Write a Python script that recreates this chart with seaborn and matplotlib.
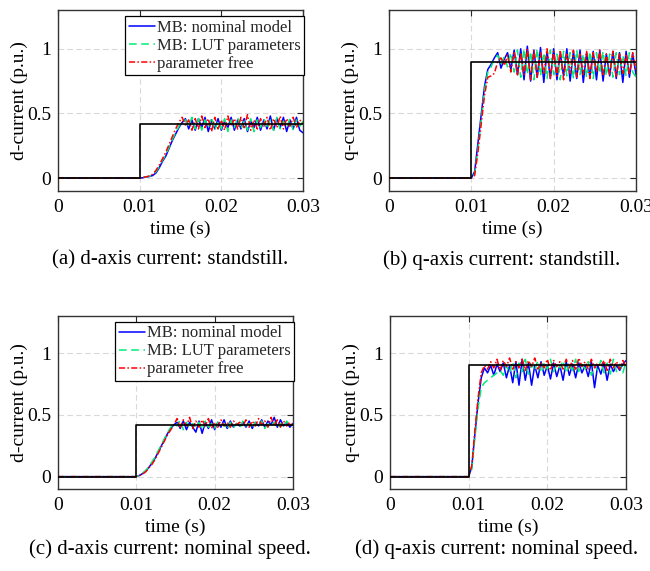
import numpy as np
import pandas as pd
import matplotlib
matplotlib.use("Agg")
import matplotlib.pyplot as plt
import seaborn as sns

# ------------------------------------------------------------
# datos (muestreo cada 0.4 ms desde t = 0.01 s)
# ------------------------------------------------------------
t_inicio = 0.0
t_escalon = 0.01
t_fin = 0.03

ref_d = 0.42
ref_q = 0.90

# (a) corriente d - standstill
a_nominal = [0.00, 0.003, 0.008, 0.012, 0.02, 0.04, 0.08, 0.13, 0.17, 0.23, 0.29, 0.34, 0.39,
             0.43, 0.46, 0.38, 0.45, 0.37, 0.46, 0.39, 0.47, 0.36, 0.45, 0.38, 0.46, 0.37,
             0.44, 0.39, 0.47, 0.37, 0.45, 0.38, 0.46, 0.36, 0.44, 0.39, 0.47, 0.37, 0.45,
             0.38, 0.48, 0.37, 0.46, 0.39, 0.47, 0.36, 0.45, 0.38, 0.47, 0.37, 0.35]
a_lut = [0.00, 0.004, 0.009, 0.014, 0.025, 0.05, 0.09, 0.14, 0.18, 0.24, 0.30, 0.35, 0.40,
         0.44, 0.45, 0.40, 0.47, 0.38, 0.46, 0.37, 0.45, 0.39, 0.47, 0.37, 0.44, 0.38,
         0.46, 0.36, 0.45, 0.39, 0.47, 0.38, 0.44, 0.37, 0.46, 0.36, 0.45, 0.39, 0.46,
         0.38, 0.45, 0.37, 0.47, 0.38, 0.44, 0.39, 0.46, 0.37, 0.45, 0.40, 0.44]
a_libre = [0.00, 0.005, 0.01, 0.016, 0.03, 0.06, 0.10, 0.15, 0.20, 0.26, 0.32, 0.38, 0.43,
           0.47, 0.41, 0.45, 0.37, 0.46, 0.38, 0.48, 0.39, 0.46, 0.36, 0.47, 0.38, 0.45,
           0.37, 0.48, 0.40, 0.46, 0.38, 0.47, 0.39, 0.49, 0.37, 0.45, 0.38, 0.46, 0.40,
           0.47, 0.37, 0.46, 0.39, 0.48, 0.38, 0.46, 0.40, 0.47, 0.39, 0.45, 0.42]

# (b) corriente q - standstill
b_nominal = [0.00, 0.05, 0.27, 0.49, 0.71, 0.84, 0.88, 0.93, 0.97, 0.85, 0.92, 0.97, 0.84,
             0.99, 0.80, 1.00, 0.76, 1.02, 0.75, 0.99, 0.78, 1.01, 0.74, 0.98, 0.77, 1.00,
             0.76, 0.97, 0.79, 1.00, 0.75, 0.98, 0.77, 0.99, 0.74, 0.97, 0.78, 0.98, 0.76,
             0.99, 0.75, 0.96, 0.79, 0.98, 0.77, 0.97, 0.74, 0.98, 0.78, 0.96, 0.80]
b_lut = [0.00, 0.03, 0.22, 0.45, 0.68, 0.82, 0.86, 0.92, 0.95, 0.88, 0.94, 0.86, 0.97,
         0.82, 0.99, 0.78, 1.00, 0.80, 0.98, 0.76, 1.00, 0.79, 0.97, 0.77, 0.99, 0.80,
         0.96, 0.76, 0.98, 0.79, 0.97, 0.77, 0.99, 0.80, 0.96, 0.78, 0.98, 0.77, 0.97,
         0.81, 0.98, 0.79, 0.96, 0.78, 0.97, 0.80, 0.95, 0.79, 0.97, 0.82, 0.78]
b_libre = [0.00, 0.02, 0.20, 0.42, 0.64, 0.78, 0.79, 0.81, 0.90, 0.93, 0.87, 0.95, 0.82,
           0.98, 0.79, 0.97, 0.80, 1.00, 0.76, 0.99, 0.78, 0.97, 0.80, 1.00, 0.77, 0.98,
           0.79, 0.99, 0.76, 0.97, 0.81, 0.99, 0.78, 0.96, 0.80, 0.98, 0.77, 0.97, 0.82,
           0.99, 0.79, 0.96, 0.80, 0.98, 0.78, 0.97, 0.81, 0.96, 0.80, 0.97, 0.83]

# (c) corriente d - velocidad nominal
c_nominal = [0.00, 0.01, 0.025, 0.045, 0.075, 0.11, 0.15, 0.20, 0.25, 0.30, 0.35, 0.39, 0.42,
             0.44, 0.39, 0.45, 0.38, 0.44, 0.40, 0.36, 0.45, 0.35, 0.44, 0.39, 0.46, 0.38,
             0.44, 0.40, 0.46, 0.39, 0.45, 0.40, 0.43, 0.41, 0.44, 0.40, 0.45, 0.39, 0.44,
             0.41, 0.46, 0.40, 0.45, 0.42, 0.48, 0.40, 0.46, 0.41, 0.44, 0.40, 0.43]
c_lut = [0.00, 0.012, 0.03, 0.05, 0.08, 0.12, 0.16, 0.21, 0.26, 0.31, 0.36, 0.40, 0.43,
         0.41, 0.46, 0.38, 0.44, 0.39, 0.43, 0.40, 0.44, 0.38, 0.45, 0.40, 0.43, 0.39,
         0.44, 0.41, 0.43, 0.38, 0.44, 0.40, 0.43, 0.39, 0.45, 0.41, 0.43, 0.39, 0.44,
         0.40, 0.45, 0.39, 0.43, 0.41, 0.44, 0.39, 0.43, 0.40, 0.45, 0.41, 0.42]
c_libre = [0.00, 0.008, 0.02, 0.04, 0.07, 0.10, 0.14, 0.19, 0.24, 0.29, 0.34, 0.38, 0.42,
           0.47, 0.40, 0.46, 0.41, 0.48, 0.39, 0.45, 0.40, 0.46, 0.41, 0.47, 0.39, 0.44,
           0.40, 0.46, 0.41, 0.44, 0.40, 0.45, 0.42, 0.44, 0.41, 0.46, 0.40, 0.45, 0.41,
           0.47, 0.42, 0.45, 0.40, 0.48, 0.41, 0.46, 0.40, 0.45, 0.41, 0.44, 0.40]

# (d) corriente q - velocidad nominal
d_nominal = [0.00, 0.08, 0.35, 0.60, 0.80, 0.88, 0.84, 0.90, 0.82, 0.91, 0.85, 0.92, 0.80,
             0.90, 0.76, 0.93, 0.74, 0.95, 0.78, 0.92, 0.74, 0.90, 0.80, 0.93, 0.82, 0.90,
             0.79, 0.92, 0.81, 0.90, 0.78, 0.93, 0.82, 0.91, 0.80, 0.92, 0.84, 0.90, 0.81,
             0.93, 0.72, 0.90, 0.83, 0.92, 0.78, 0.91, 0.85, 0.90, 0.86, 0.91, 0.94]
d_lut = [0.00, 0.06, 0.32, 0.56, 0.72, 0.76, 0.78, 0.80, 0.82, 0.84, 0.86, 0.82, 0.90,
         0.84, 0.93, 0.80, 0.92, 0.85, 0.95, 0.83, 0.91, 0.86, 0.94, 0.84, 0.92, 0.87,
         0.95, 0.85, 0.91, 0.88, 0.94, 0.84, 0.92, 0.86, 0.95, 0.85, 0.91, 0.87, 0.93,
         0.82, 0.90, 0.86, 0.94, 0.84, 0.92, 0.83, 0.95, 0.85, 0.91, 0.84, 0.93]
d_libre = [0.00, 0.09, 0.38, 0.64, 0.84, 0.90, 0.87, 0.93, 0.88, 0.95, 0.86, 0.94, 0.89,
           0.96, 0.87, 0.93, 0.88, 0.95, 0.86, 0.94, 0.89, 0.96, 0.87, 0.92, 0.88, 0.95,
           0.86, 0.94, 0.89, 0.93, 0.87, 0.95, 0.88, 0.94, 0.86, 0.96, 0.89, 0.93, 0.87,
           0.95, 0.88, 0.92, 0.89, 0.94, 0.86, 0.95, 0.88, 0.93, 0.87, 0.94, 0.89]

etiquetas = ["MB: nominal model", "MB: LUT parameters", "parameter free"]
colores = ["#0000ff", "#00ee77", "#ff0000"]
estilos = [(None, None), (5, 3), (4, 1.5, 1, 1.5)]

xticks = [0, 0.01, 0.02, 0.03]
xtick_labels = ["0", "0.01", "0.02", "0.03"]
yticks = [0, 0.5, 1]
ytick_labels = ["0", "0.5", "1"]

paneles = [
    {"series": [a_nominal, a_lut, a_libre], "ref": ref_d, "ylabel": "d-current (p.u.)",
     "caption": "(a) d-axis current: standstill.", "legend": True},
    {"series": [b_nominal, b_lut, b_libre], "ref": ref_q, "ylabel": "q-current (p.u.)",
     "caption": "(b) q-axis current: standstill.", "legend": False},
    {"series": [c_nominal, c_lut, c_libre], "ref": ref_d, "ylabel": "d-current (p.u.)",
     "caption": "(c) d-axis current: nominal speed.", "legend": True},
    {"series": [d_nominal, d_lut, d_libre], "ref": ref_q, "ylabel": "q-current (p.u.)",
     "caption": "(d) q-axis current: nominal speed.", "legend": False},
]

# ------------------------------------------------------------
# estilo
# ------------------------------------------------------------
sns.set_theme(style="white")
plt.rcParams["font.family"] = ["Liberation Serif", "DejaVu Serif"]

W, H = 650, 571
fig = plt.figure(figsize=(W / 100, H / 100), dpi=100)

# posiciones en pixeles: (izq, arriba, der, abajo)
cajas = [(58, 10, 303, 191), (389, 10, 636, 191),
         (58, 316, 293, 489), (390, 316, 626, 489)]
captions_xy = [(170, 260), (502, 260), (170, 549), (497, 549)]

for panel, caja, cap in zip(paneles, cajas, captions_xy):
    x0, y0, x1, y1 = caja
    ax = fig.add_axes([x0 / W, 1 - y1 / H, (x1 - x0) / W, (y1 - y0) / H])

    for vals, lab, col, ds in zip(panel["series"], etiquetas, colores, estilos):
        tiempo = np.concatenate([[t_inicio], np.linspace(t_escalon, t_fin, len(vals))])
        df = pd.DataFrame({"t": tiempo, "i": np.concatenate([[0.0], vals])})
        sns.lineplot(data=df, x="t", y="i", ax=ax, color=col, lw=1.1,
                     estimator=None, sort=False, label=lab)
        if ds[0] is not None:
            ax.lines[-1].set_dashes(ds)

    # referencia (escalon)
    ref = pd.DataFrame({"t": [t_inicio, t_escalon, t_fin],
                        "i": [0.0, panel["ref"], panel["ref"]]})
    ax.plot(ref["t"], ref["i"], color="black", lw=1.2, drawstyle="steps-post", zorder=5)

    ax.set_xlim(0, 0.03)
    ax.set_ylim(-0.1, 1.3)
    ax.set_xticks(xticks)
    ax.set_xticklabels(xtick_labels)
    ax.set_yticks(yticks)
    ax.set_yticklabels(ytick_labels)
    ax.grid(True, color="#d9d9d9", linestyle=(0, (5, 3)), lw=0.8)
    ax.set_axisbelow(True)
    ax.tick_params(direction="in", top=True, right=True, length=4, width=0.8,
                   colors="#262626", labelsize=14, labelcolor="black")
    ax.tick_params(axis="x", pad=6)
    ax.tick_params(axis="y", pad=5)
    for s in ax.spines.values():
        s.set_color("#333333")
        s.set_linewidth(1.0)
    ax.set_xlabel("time (s)", fontsize=14, labelpad=3, color="black")
    ax.set_ylabel(panel["ylabel"], fontsize=14, color="black")
    ax.yaxis.set_label_coords(-30 / (x1 - x0), 0.5)

    if panel["legend"]:
        leg = ax.legend(loc="upper right", bbox_to_anchor=(1.005, 0.965), fontsize=12,
                        frameon=True, fancybox=False, framealpha=1, edgecolor="black",
                        handlelength=1.6, handletextpad=0.1, labelspacing=0.12,
                        borderpad=0.2, borderaxespad=0.0)
        leg.get_frame().set_linewidth(0.9)
    else:
        if ax.get_legend() is not None:
            ax.get_legend().remove()

    fig.text(cap[0] / W, 1 - cap[1] / H, panel["caption"], ha="center", va="center",
             fontsize=15, color="black")

fig.savefig("out.png", dpi=100)
